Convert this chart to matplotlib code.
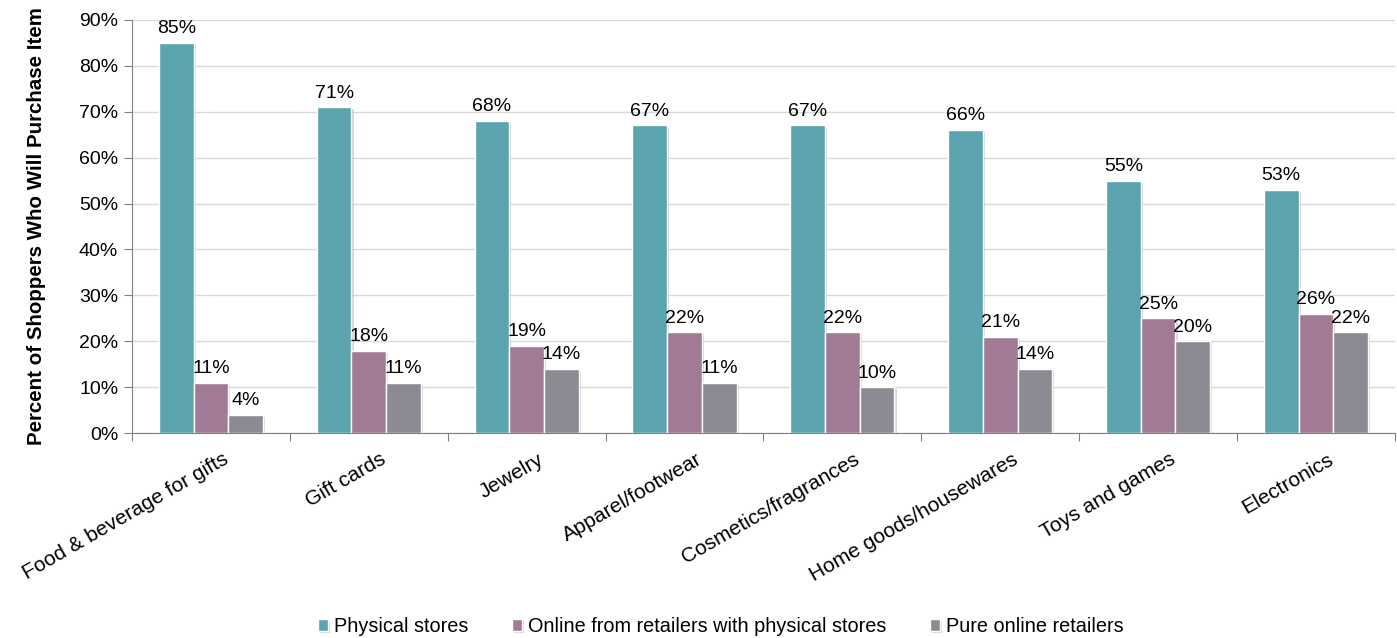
import numpy as np
import matplotlib
matplotlib.use("Agg")
import matplotlib.pyplot as plt
import matplotlib.ticker as ticker
import matplotlib.patheffects as pe

plt.rcParams['font.family'] = ['Liberation Sans', 'DejaVu Sans']

categories = ["Food & beverage for gifts", "Gift cards", "Jewelry", "Apparel/footwear",
              "Cosmetics/fragrances", "Home goods/housewares", "Toys and games", "Electronics"]
physical = [85, 71, 68, 67, 67, 66, 55, 53]
online_physical = [11, 18, 19, 22, 22, 21, 25, 26]
pure_online = [4, 11, 14, 11, 10, 14, 20, 22]

series = [("Physical stores", physical, "#5ba3ae"),
          ("Online from retailers with physical stores", online_physical, "#a27a96"),
          ("Pure online retailers", pure_online, "#8e8a94")]

fig = plt.figure(figsize=(13.97, 6.38), dpi=100)
ax = fig.add_axes([0.0945, 0.321, 0.904, 0.648])

x = np.arange(len(categories))
w = 0.22
shadow = [pe.SimplePatchShadow(offset=(1.5, -1.5), shadow_rgbFace="#bbbbbb", alpha=0.6), pe.Normal()]
for i, (name, vals, col) in enumerate(series):
    xs = x + (i - 1) * w
    bars = ax.bar(xs, vals, w, color=col, edgecolor="white", linewidth=1.0,
                  label=name, zorder=3)
    for b in bars:
        b.set_path_effects(shadow)
    for xi, v in zip(xs, vals):
        ax.annotate(f"{v}%", (xi, v), xytext=(0, 4), textcoords="offset points",
                    ha="center", va="bottom", fontsize=14, zorder=4)

ax.set_xlim(-0.5, len(categories) - 0.5)
ax.set_ylim(0, 90)
ax.yaxis.set_major_locator(ticker.MultipleLocator(10))
ax.yaxis.set_major_formatter(ticker.FuncFormatter(lambda v, p: f"{v:.0f}%"))
ax.grid(axis="y", color="#d9d9d9", linewidth=1.0, zorder=0)

# ticks sit between category groups, labels centred under each group
ax.set_xticks(np.arange(len(categories) + 1) - 0.5)
ax.set_xticklabels([])
ax.set_xticks(x + 0.07, minor=True)
ax.set_xticklabels(categories, minor=True, rotation=30, ha="right",
                   rotation_mode="anchor", fontsize=15)
ax.tick_params(axis="x", which="minor", length=0, pad=12)
ax.tick_params(axis="x", which="major", length=6, color="#808080", direction="out")
ax.tick_params(axis="y", length=6, color="#808080", labelsize=14, pad=4)

for s in ["top", "right"]:
    ax.spines[s].set_visible(False)
for s in ["left", "bottom"]:
    ax.spines[s].set_color("#808080")

ax.set_ylabel("Percent of Shoppers Who Will Purchase Item", fontsize=14.8,
              fontweight="bold", labelpad=24)

fig.legend(loc="lower center", bbox_to_anchor=(0.516, -0.025), ncol=3, frameon=False,
           fontsize=14.3, handlelength=0.5, handleheight=0.5, handletextpad=0.3,
           columnspacing=2.2)

fig.savefig("out.png", dpi=100)
